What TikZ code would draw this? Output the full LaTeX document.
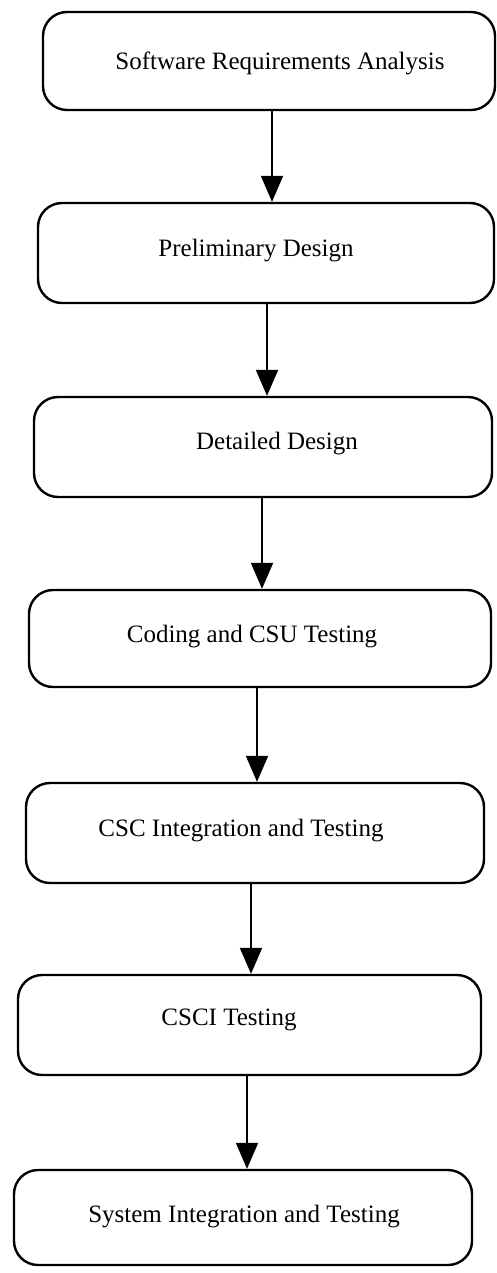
\documentclass[tikz,border=0pt]{standalone}
\usepackage{fontspec}
\setmainfont{Liberation Serif}
\usetikzlibrary{arrows.meta}
\begin{document}
\begin{tikzpicture}[x=1pt,y=-1pt,
  stagebox/.style={draw=black, line width=2.4pt, rounded corners=24pt, inner sep=0pt},
  stagetext/.style={font=\fontsize{25}{30}\selectfont, inner sep=0pt, anchor=base},
  flow/.style={line width=2pt, -{Triangle[length=26pt,width=22pt]}}]
\useasboundingbox (0,0) rectangle (497,1273);

% process stages
\node[stagebox, minimum width=452pt, minimum height=98pt]  (b1) at (269,61)   {};
\node[stagebox, minimum width=456pt, minimum height=100pt] (b2) at (266,253)  {};
\node[stagebox, minimum width=458pt, minimum height=100pt] (b3) at (263,447)  {};
\node[stagebox, minimum width=462pt, minimum height=97pt]  (b4) at (260,638.5){};
\node[stagebox, minimum width=458pt, minimum height=100pt] (b5) at (255,833)  {};
\node[stagebox, minimum width=463pt, minimum height=100pt] (b6) at (249.5,1025){};
\node[stagebox, minimum width=458pt, minimum height=95pt]  (b7) at (243,1217.5){};

% stage names
\node[stagetext] (t1) at (280,70)   {Software Requirements Analysis};
\node[stagetext] (t2) at (256,257)  {Preliminary Design};
\node[stagetext] (t3) at (277,449)  {Detailed Design};
\node[stagetext] (t4) at (252,642)  {Coding and CSU Testing};
\node[stagetext] (t5) at (241,836)  {CSC Integration and Testing};
\node[stagetext] (t6) at (229,1025) {CSCI Testing};
\node[stagetext] (t7) at (244,1222) {System Integration and Testing};

% connector columns
\coordinate (x1) at (272,0);
\coordinate (x2) at (267,0);
\coordinate (x3) at (262,0);
\coordinate (x4) at (257,0);
\coordinate (x5) at (251,0);
\coordinate (x6) at (247,0);

% transitions between stages
\draw[flow] (b1.south -| x1) -- (b2.north -| x1);
\draw[flow] (b2.south -| x2) -- (b3.north -| x2);
\draw[flow] (b3.south -| x3) -- (b4.north -| x3);
\draw[flow] (b4.south -| x4) -- (b5.north -| x4);
\draw[flow] (b5.south -| x5) -- (b6.north -| x5);
\draw[flow] (b6.south -| x6) -- (b7.north -| x6);
\end{tikzpicture}
\end{document}
